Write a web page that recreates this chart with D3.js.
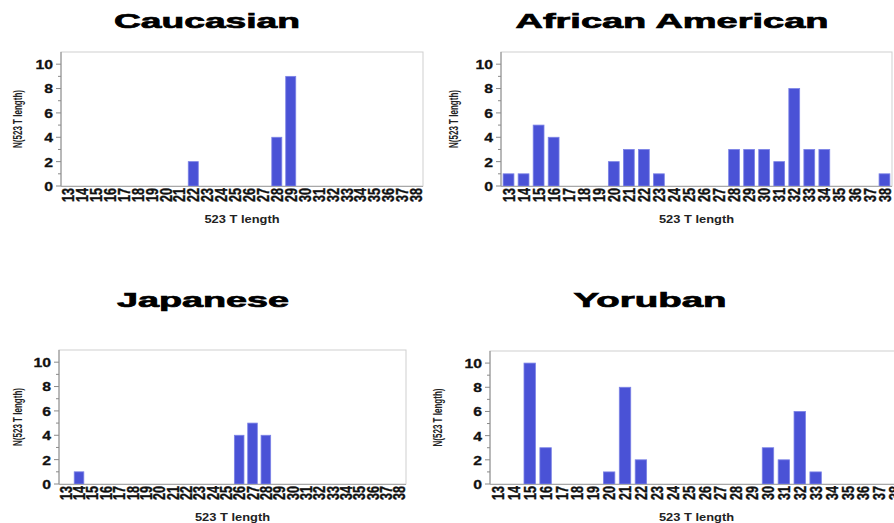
<!DOCTYPE html>
<html>
<head>
<meta charset="utf-8">
<script src="https://cdn.jsdelivr.net/npm/d3@7"></script>
<style>
  html, body { margin: 0; padding: 0; background: #fff; }
  svg { display: block; font-family: "Liberation Sans", Arial, sans-serif; }
</style>
</head>
<body>
<svg id="chart" width="894" height="523"></svg>
<script>
// Counts of 523 T-length alleles per population
const lengths = ["13","14","15","16","17","18","19","20","21","22","23","24","25",
                 "26","27","28","29","30","31","32","33","34","35","36","37","38"];
const caucasian       = [0,0,0,0,0,0,0,0,0,2,0,0,0,0,0,4,9,0,0,0,0,0,0,0,0,0];
const africanAmerican = [1,1,5,4,0,0,0,2,3,3,1,0,0,0,0,3,3,3,2,8,3,3,0,0,0,1];
const japanese        = [0,1,0,0,0,0,0,0,0,0,0,0,0,4,5,4,0,0,0,0,0,0,0,0,0,0];
const yoruban         = [0,0,10,3,0,0,0,1,8,2,0,0,0,0,0,0,0,3,2,6,1,0,0,0,0,0];
const yTicks = [0,2,4,6,8,10];
const yMinorTicks = [1,3,5,7,9];
const yMax = 11;
const xTitle = "523 T length";
const yTitle = "N(523 T length)";

// Layout of the four panels
const SX = 1.17;   // horizontal widening of text glyphs
const SXL = 1.35;  // widening of the vertical length labels
const panels = [
  { title: "Caucasian",        values: caucasian,
    l: 61,  r: 423, t: 52,  b: 186, tx: 207, tw: 186, ty: 28,  yx: 18,  xy: 223 },
  { title: "African American", values: africanAmerican,
    l: 501, r: 892, t: 52,  b: 186, tx: 672, tw: 313, ty: 28,  yx: 454, xy: 223 },
  { title: "Japanese",         values: japanese,
    l: 59,  r: 406, t: 350, b: 484, tx: 203, tw: 172, ty: 307, yx: 18,  xy: 521 },
  { title: "Yoruban",          values: yoruban,
    l: 490, r: 903, t: 351, b: 484, tx: 650, tw: 153, ty: 307, yx: 438, xy: 521 }
];

const svg = d3.select("#chart");

panels.forEach(p => {
  const g = svg.append("g");
  const x = d3.scaleBand().domain(lengths).range([p.l, p.r]).paddingInner(0.28).paddingOuter(0.14);
  const y = d3.scaleLinear().domain([0, yMax]).range([p.b, p.t]);

  // plot frame
  g.append("rect")
    .attr("x", p.l).attr("y", p.t)
    .attr("width", p.r - p.l).attr("height", p.b - p.t)
    .attr("fill", "none").attr("stroke", "#cfcfcf").attr("stroke-width", 1);

  // bars
  g.selectAll("rect.bar")
    .data(lengths.map((k, i) => ({ k, v: p.values[i] })).filter(d => d.v > 0))
    .join("rect")
    .attr("class", "bar")
    .attr("x", d => x(d.k))
    .attr("width", x.bandwidth())
    .attr("y", d => y(d.v))
    .attr("height", d => y(0) - y(d.v))
    .attr("fill", "#4a52d6")
    .attr("stroke", "#7c83e6")
    .attr("stroke-width", 0.8);

  // bottom axis line
  g.append("line")
    .attr("x1", p.l).attr("x2", p.r).attr("y1", p.b + 0.5).attr("y2", p.b + 0.5)
    .attr("stroke", "#a8a8a8");

  // y axis
  const ya = g.append("g").attr("transform", `translate(${p.l},0)`);
  ya.append("line")
    .attr("x1", 0).attr("x2", 0).attr("y1", p.t).attr("y2", p.b)
    .attr("stroke", "#8a8a8a");
  ya.selectAll("line.major").data(yTicks).join("line")
    .attr("class", "major")
    .attr("x1", -5).attr("x2", 0)
    .attr("y1", d => y(d)).attr("y2", d => y(d))
    .attr("stroke", "#8a8a8a");
  ya.selectAll("line.minor").data(yMinorTicks).join("line")
    .attr("class", "minor")
    .attr("x1", -3).attr("x2", 0)
    .attr("y1", d => y(d)).attr("y2", d => y(d))
    .attr("stroke", "#8a8a8a");
  ya.selectAll("text").data(yTicks).join("text")
    .attr("transform", d => `translate(-8,${y(d)}) scale(${SX},1)`)
    .attr("dy", "0.36em")
    .attr("text-anchor", "end")
    .attr("font-size", 13.5)
    .attr("font-weight", "bold")
    .attr("fill", "#111")
    .attr("stroke", "#111").attr("stroke-width", 0.3)
    .text(d => d);

  // x tick labels, vertical
  g.selectAll("text.xl").data(lengths).join("text")
    .attr("class", "xl")
    .attr("transform", d => `translate(${x(d) + x.bandwidth() / 2},${p.b + 2}) scale(${SXL},1) rotate(-90)`)
    .attr("dy", "0.36em")
    .attr("text-anchor", "end")
    .attr("font-size", 12.6)
    .attr("font-weight", "bold")
    .attr("fill", "#111")
    .attr("stroke", "#111").attr("stroke-width", 0.3)
    .text(d => d);

  // axis titles
  g.append("text")
    .attr("transform", `translate(${(p.l + p.r) / 2},${p.xy}) scale(${SX},1)`)
    .attr("text-anchor", "middle")
    .attr("font-size", 11)
    .attr("font-weight", "bold")
    .attr("fill", "#222")
    .text(xTitle);

  g.append("text")
    .attr("transform", `translate(${p.yx},${(p.t + p.b) / 2}) scale(1.15,1) rotate(-90)`)
    .attr("dy", "0.35em")
    .attr("text-anchor", "middle")
    .attr("font-size", 10.5)
    .attr("font-weight", "bold")
    .attr("fill", "#222")
    .attr("textLength", 58)
    .attr("lengthAdjust", "spacingAndGlyphs")
    .text(yTitle);

  // panel title
  g.append("text")
    .attr("x", p.tx - p.tw / 2)
    .attr("y", p.ty)
    .attr("font-size", 21)
    .attr("font-weight", "bold")
    .attr("fill", "#000")
    .attr("stroke", "#000").attr("stroke-width", 0.7)
    .attr("textLength", p.tw)
    .attr("lengthAdjust", "spacingAndGlyphs")
    .text(p.title);
});
</script>
</body>
</html>
